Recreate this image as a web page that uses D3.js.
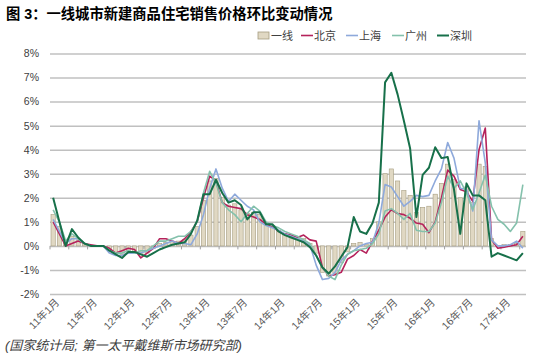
<!DOCTYPE html>
<html><head><meta charset="utf-8">
<script src="https://cdn.jsdelivr.net/npm/d3@7"></script>
<style>
html,body{margin:0;padding:0;background:#fff;}
svg{display:block;}
text{font-family:"Liberation Sans","Noto Sans CJK SC",Arial,sans-serif;}
</style></head>
<body>
<svg id="c" width="550" height="360"></svg>
<script>
const categories = [
 "11-01","11-02","11-03","11-04","11-05","11-06","11-07","11-08","11-09","11-10","11-11","11-12",
 "12-01","12-02","12-03","12-04","12-05","12-06","12-07","12-08","12-09","12-10","12-11","12-12",
 "13-01","13-02","13-03","13-04","13-05","13-06","13-07","13-08","13-09","13-10","13-11","13-12",
 "14-01","14-02","14-03","14-04","14-05","14-06","14-07","14-08","14-09","14-10","14-11","14-12",
 "15-01","15-02","15-03","15-04","15-05","15-06","15-07","15-08","15-09","15-10","15-11","15-12",
 "16-01","16-02","16-03","16-04","16-05","16-06","16-07","16-08","16-09","16-10","16-11","16-12",
 "17-01","17-02","17-03","17-04"];
const tickCats = ["11-01","11-07","12-01","12-07","13-01","13-07","14-01","14-07","15-01","15-07","16-01","16-07","17-01"];
const tickLabels = ["11年1月","11年7月","12年1月","12年7月","13年1月","13年7月","14年1月","14年7月","15年1月","15年7月","16年1月","16年7月","17年1月"];
const yTicks = [-2,-1,0,1,2,3,4,5,6,7,8];

const tier1 = [1.3,0.8,0.1,0.4,0.25,0.1,0.0,0.0,0.0,-0.2,-0.3,-0.35,
 -0.2,-0.25,-0.35,-0.3,-0.1,0.1,0.15,0.2,0.2,0.25,0.45,0.8,
 1.9,2.7,2.8,2.0,1.7,1.75,1.5,1.35,1.4,1.3,0.9,0.85,
 0.65,0.5,0.4,0.3,0.3,0.1,-0.3,-1.1,-1.25,-1.15,-0.7,-0.25,
 0.1,0.15,0.05,0.3,1.0,3.0,3.2,2.7,2.3,2.1,1.4,1.6,
 1.65,2.15,2.6,3.4,2.75,2.0,2.45,1.8,3.4,3.3,0.3,0.0,
 0.05,0.05,0.1,0.6];
const beijing = [1.0,0.5,0.0,0.1,0.2,0.1,0.05,0.0,0.0,-0.1,-0.3,-0.2,
 -0.1,-0.15,-0.5,-0.3,-0.1,0.3,0.3,0.2,0.1,0.3,0.6,1.0,
 2.0,2.9,2.7,1.8,1.65,1.6,1.55,1.3,1.2,1.1,0.9,0.8,
 0.6,0.5,0.45,0.35,0.45,0.25,0.2,-0.9,-1.25,-1.2,-1.1,-0.55,
 -0.4,-0.15,-0.3,0.2,0.65,1.2,1.5,1.35,1.3,1.15,0.95,0.9,
 0.55,1.0,2.0,3.15,2.9,2.35,2.25,1.85,4.0,4.9,0.25,-0.1,
 -0.05,0.0,0.05,0.4];
const shanghai = [1.1,0.6,0.1,0.3,0.3,0.1,0.0,0.0,0.0,-0.3,-0.4,-0.4,
 -0.3,-0.3,-0.3,-0.2,-0.1,0.0,0.1,0.2,0.1,0.1,0.05,0.5,
 1.3,2.4,3.2,2.4,1.85,2.15,1.9,1.65,1.5,1.0,0.85,0.75,
 0.65,0.5,0.4,0.3,0.2,0.05,-0.8,-1.4,-1.35,-1.1,-0.6,-0.35,
 -0.2,0.0,0.1,0.15,0.95,2.55,2.45,2.05,1.65,1.85,2.1,2.05,
 2.1,2.7,3.2,4.3,3.65,2.4,2.35,1.45,5.2,3.45,0.25,0.0,
 0.0,0.05,0.2,-0.1];
const guangzhou = [1.5,1.0,0.2,0.5,0.3,0.1,0.0,0.0,0.0,-0.2,-0.3,-0.3,
 -0.2,-0.3,-0.2,-0.2,0.0,0.2,0.2,0.3,0.4,0.4,0.6,1.0,
 2.2,3.1,2.6,1.8,1.5,1.3,1.0,1.35,1.65,1.45,1.0,0.85,
 0.75,0.6,0.5,0.4,0.25,0.1,-0.4,-0.9,-1.25,-1.4,-0.8,-0.35,
 -0.2,-0.15,-0.1,0.1,0.5,1.45,1.55,1.35,1.1,1.35,0.65,0.6,
 0.6,0.95,1.8,2.9,2.4,2.7,2.2,1.5,2.2,2.95,1.65,1.1,
 0.9,0.6,0.95,2.55];
const shenzhen = [2.0,1.0,0.0,0.7,0.35,0.1,0.0,0.0,0.0,-0.2,-0.35,-0.5,
 -0.25,-0.25,-0.35,-0.45,-0.3,-0.15,-0.05,0.05,0.1,0.15,0.5,1.05,
 2.15,2.15,2.75,2.2,1.8,1.9,1.7,1.1,1.4,1.4,0.9,0.9,
 0.6,0.45,0.35,0.25,0.15,-0.05,-0.4,-0.9,-1.15,-0.85,-0.45,-0.05,
 1.2,0.6,0.5,0.95,1.8,6.8,7.2,6.3,5.2,4.05,1.2,2.95,
 3.25,4.1,3.65,3.7,2.35,0.5,2.6,2.1,2.1,1.9,-0.45,-0.3,
 -0.4,-0.5,-0.6,-0.3];

const seriesNames = ["一线","北京","上海","广州","深圳"];
const lineSeries = [
  {name:"北京", values:beijing, color:"#b5225b", width:1.6},
  {name:"上海", values:shanghai, color:"#8ea9db", width:1.6},
  {name:"广州", values:guangzhou, color:"#84c1ac", width:1.6},
  {name:"深圳", values:shenzhen, color:"#17704a", width:2}
];

const svg = d3.select("#c");
const plotL = 50, plotR = 526, plotT = 53.5, plotB = 294;
const x = d3.scaleBand().domain(categories).range([plotL, plotR]).padding(0);
const y = d3.scaleLinear().domain([-2, 8]).range([plotB, plotT]);
const cx = c => x(c) + x.bandwidth()/2;

// gridlines + y labels
const yAxis = d3.axisLeft(y).tickValues(yTicks).tickSize(-(plotR-plotL)).tickFormat(d => d + "%");
const gy = svg.append("g").attr("transform", `translate(${plotL},0)`).call(yAxis);
gy.select(".domain").remove();
gy.selectAll(".tick line").attr("stroke", "#c0c0c0").attr("stroke-width", 1.5).attr("x1", 0);
gy.selectAll(".tick text").attr("x", -11).attr("fill", "#404040").style("font-size", "10.5px");

// bars
const bw = x.bandwidth() * 0.68;
svg.append("g").selectAll("rect").data(categories).join("rect")
  .attr("x", (c) => cx(c) - bw/2)
  .attr("y", (c, i) => y(Math.max(0, tier1[i])))
  .attr("width", bw)
  .attr("height", (c, i) => Math.abs(y(tier1[i]) - y(0)))
  .attr("fill", "#e0d8c3").attr("stroke", "#a69d80").attr("stroke-width", 0.6);

// zero axis ticks (every 3 months)
const minorTicks = categories.filter((c, i) => i % 3 === 0);
svg.append("g").selectAll("line").data(minorTicks).join("line")
  .attr("x1", c => x(c)).attr("x2", c => x(c))
  .attr("y1", y(0)).attr("y2", y(0) + 3.5)
  .attr("stroke", "#a0a0a0").attr("stroke-width", 1);

// lines
const lineGen = vals => d3.line().x((c) => cx(c)).y((c, i) => y(vals[i]))(categories);
svg.append("g").selectAll("path").data(lineSeries).join("path")
  .attr("d", s => lineGen(s.values))
  .attr("fill", "none").attr("stroke", s => s.color).attr("stroke-width", s => s.width)
  .attr("stroke-linejoin", "round");

// x labels
svg.append("g").selectAll("text").data(tickCats).join("text")
  .attr("transform", c => `translate(${x(c) + 10},${plotB + 9}) rotate(-45)`)
  .attr("text-anchor", "end")
  .attr("fill", "#595959").style("font-size", "10.5px")
  .text((c, i) => tickLabels[i]);

// title
svg.append("text").attr("x", 6).attr("y", 19)
  .style("font-size", "14.3px").style("font-weight", "bold").attr("fill", "#000")
  .text("图 3：一线城市新建商品住宅销售价格环比变动情况");

// legend
const legendX = [258, 301, 346, 392, 437];
const lg = svg.append("g");
seriesNames.forEach((n, i) => {
  const gx = legendX[i];
  if (i === 0) {
    lg.append("rect").attr("x", gx).attr("y", 32).attr("width", 11).attr("height", 7)
      .attr("fill", "#e0d8c3").attr("stroke", "#a69d80").attr("stroke-width", 0.8);
  } else {
    const s = lineSeries[i-1];
    lg.append("line").attr("x1", gx).attr("x2", gx + 12).attr("y1", 35.5).attr("y2", 35.5)
      .attr("stroke", s.color).attr("stroke-width", s.width);
  }
  lg.append("text").attr("x", gx + 13).attr("y", 39.5).attr("fill", "#404040")
    .style("font-size", "11px").text(n);
});

// source
svg.append("text").attr("x", 5).attr("y", 350).attr("fill", "#404040")
  .style("font-size", "13px").style("font-style", "italic")
  .text("(国家统计局; 第一太平戴维斯市场研究部)");
</script>
</body></html>
